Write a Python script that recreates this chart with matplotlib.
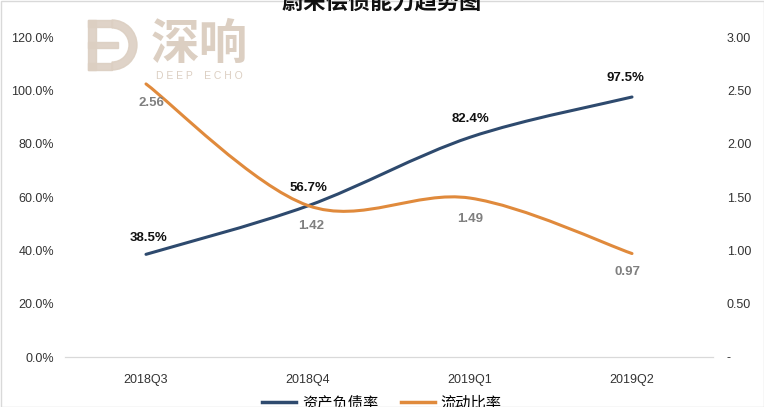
import matplotlib
matplotlib.use('Agg')
import matplotlib.pyplot as plt
from matplotlib.path import Path
from matplotlib.patches import PathPatch, Wedge, Rectangle
from matplotlib.ticker import FuncFormatter
import numpy as np

plt.rcParams['font.family'] = ['Liberation Sans', 'Noto Sans CJK SC', 'DejaVu Sans']

quarters = ['2018Q3', '2018Q4', '2019Q1', '2019Q2']
debt_ratio = [38.5, 56.7, 82.4, 97.5]      # 资产负债率, %
current_ratio = [2.56, 1.42, 1.49, 0.97]   # 流动比率

title = '蔚来偿债能力趋势图'
names = ['资产负债率', '流动比率']
blue = '#2E4A6E'
orange = '#E08A3C'
wm = '#dccfc2'


def smooth_path(xs, ys):
    # excel style smoothed line: cubic bezier segments, catmull-rom tangents
    verts = [(xs[0], ys[0])]
    codes = [Path.MOVETO]
    n = len(xs)
    for i in range(n - 1):
        x0, y0 = (xs[i - 1], ys[i - 1]) if i > 0 else (xs[i], ys[i])
        x3, y3 = (xs[i + 2], ys[i + 2]) if i + 2 < n else (xs[i + 1], ys[i + 1])
        c1 = (xs[i] + (xs[i + 1] - x0) / 6, ys[i] + (ys[i + 1] - y0) / 6)
        c2 = (xs[i + 1] - (x3 - xs[i]) / 6, ys[i + 1] - (y3 - ys[i]) / 6)
        verts += [c1, c2, (xs[i + 1], ys[i + 1])]
        codes += [Path.CURVE4] * 3
    return Path(verts, codes)


fig = plt.figure(figsize=(7.64, 4.07), dpi=100)

# overlay in pixel coords for watermark / frame
bg = fig.add_axes([0, 0, 1, 1], zorder=-1)
bg.set_xlim(0, 764)
bg.set_ylim(407, 0)
bg.axis('off')
bg.add_patch(Wedge((112, 45), 25, -90, 90, width=8, color=wm, alpha=0.9))
bg.add_patch(Rectangle((88, 20), 8, 50, color=wm, alpha=0.9))
bg.add_patch(Rectangle((88, 20), 24, 7, color=wm, alpha=0.9))
bg.add_patch(Rectangle((88, 63), 24, 7, color=wm, alpha=0.9))
bg.add_patch(Rectangle((88, 42), 30, 6, color=wm, alpha=0.9))
bg.text(151, 44, '深响', fontsize=35, color=wm, fontweight='bold',
        family=['Noto Sans CJK SC'], va='center', ha='left')
bg.text(156, 76, 'D E E P    E C H O', fontsize=7.5, color=wm, va='center', ha='left')
bg.add_patch(Rectangle((0.5, 0.5), 763, 406, fill=False, edgecolor='#d9d9d9', lw=1))

ax = fig.add_axes([65 / 764, 50 / 407, 648 / 764, 320 / 407])
ax2 = ax.twinx()
ax.patch.set_visible(False)
ax2.patch.set_visible(False)

x = np.arange(len(quarters))
ax.add_patch(PathPatch(smooth_path(x, debt_ratio), fill=False, edgecolor=blue, lw=2.2,
                       capstyle='round', zorder=3))
ax2.add_patch(PathPatch(smooth_path(x, current_ratio), fill=False, edgecolor=orange, lw=2.2,
                        capstyle='round', zorder=3))

ax.set_xlim(-0.5, 3.5)
ax.set_ylim(0, 120)
ax2.set_ylim(0, 3)
ax.set_yticks(np.arange(0, 121, 20))
ax2.set_yticks(np.arange(0, 3.01, 0.5))
ax.yaxis.set_major_formatter(FuncFormatter(lambda v, p: '%.1f%%' % v))
ax2.yaxis.set_major_formatter(FuncFormatter(lambda v, p: '-' if v == 0 else '%.2f' % v))
ax.set_xticks(x)
ax.set_xticklabels(quarters)

for a in (ax, ax2):
    for s in ('top', 'left', 'right'):
        a.spines[s].set_visible(False)
    a.spines['bottom'].set_color('#d9d9d9')
    a.tick_params(length=0, labelsize=9, colors='#333333')
ax.tick_params(axis='y', pad=8)
ax2.tick_params(axis='y', pad=10)
ax.tick_params(axis='x', pad=12)

# data labels
blue_off = [(2, 12), (0, 13), (0, 13), (-5, 14)]
for xi, v, (dx, dy) in zip(x, debt_ratio, blue_off):
    ax.annotate('%.1f%%' % v, (xi, v), xytext=(dx, dy), textcoords='offset points',
                ha='center', va='center', fontsize=9.5, fontweight='bold', color='#111111')
orange_off = [(4, -14), (2, -15), (0, -15), (-3, -13)]
for xi, v, (dx, dy) in zip(x, current_ratio, orange_off):
    ax2.annotate('%.2f' % v, (xi, v), xytext=(dx, dy), textcoords='offset points',
                 ha='center', va='center', fontsize=9.5, fontweight='bold', color='#7f7f7f')

fig.text(0.5, 1 - 2 / 407, title, fontsize=16, fontweight='bold', ha='center', va='center',
         family=['Noto Sans CJK SC'], color='#111111')

handles = [plt.Line2D([], [], color=blue, lw=2.5), plt.Line2D([], [], color=orange, lw=2.5)]
fig.legend(handles, names, loc='center', bbox_to_anchor=(382 / 764, 1 - 403 / 407), ncol=2,
           frameon=False, handlelength=2.2, handletextpad=0.4, columnspacing=1.5,
           prop={'family': ['Noto Sans CJK SC'], 'size': 11})

fig.savefig('out.png', dpi=100)
